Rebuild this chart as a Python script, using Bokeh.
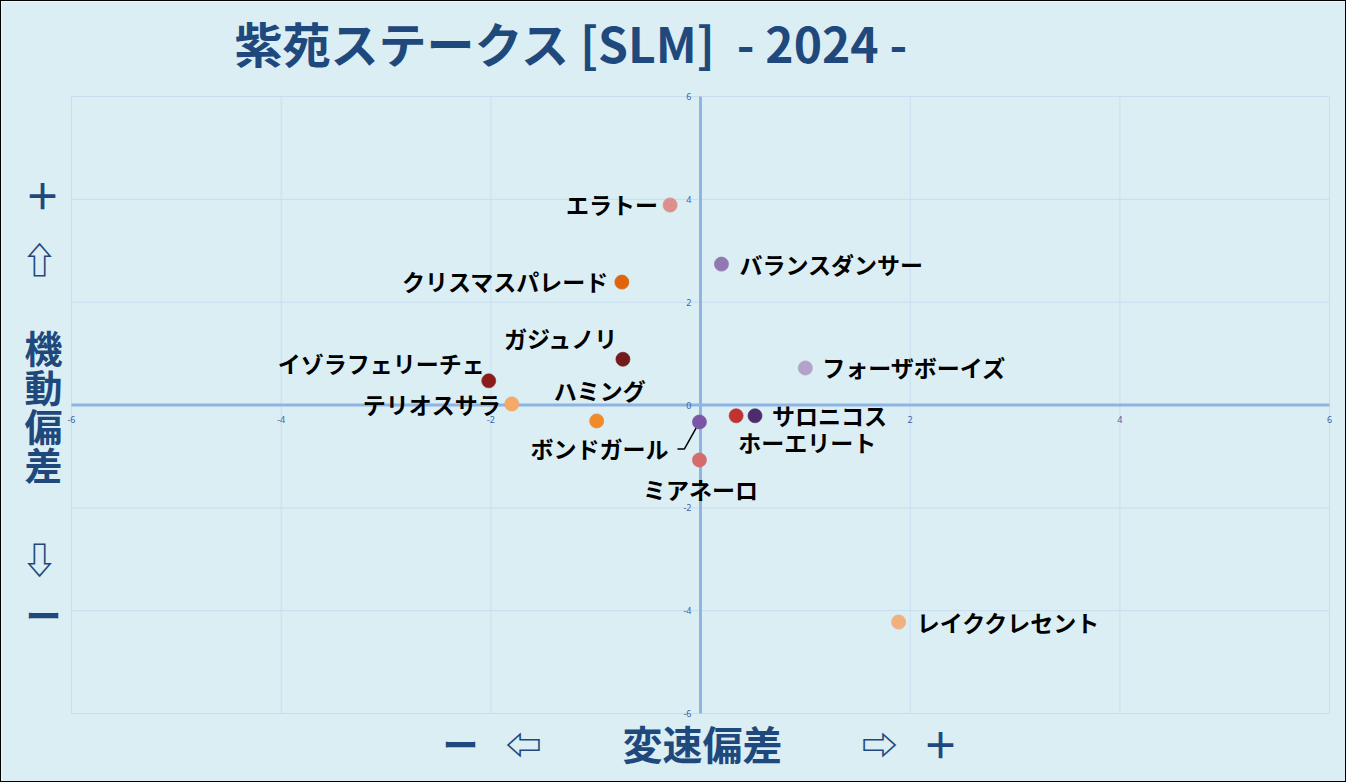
import numpy as np
from bokeh.plotting import figure
from bokeh.models import ColumnDataSource, Label
from bokeh.core.properties import value
from bokeh.embed import file_html
from bokeh.resources import INLINE

# ---------------- data ----------------
names = ["エラトー", "バランスダンサー", "クリスマスパレード", "ガジュノリ",
         "イゾラフェリーチェ", "フォーザボーイズ", "テリオスサラ", "ハミング",
         "ボンドガール", "サロニコス", "ホーエリート", "ミアネーロ", "レイククレセント"]
speed_dev = [-0.29, 0.20, -0.75, -0.74, -2.02, 1.00, -1.80, -0.99,
             -0.01, 0.52, 0.34, -0.01, 1.89]
mobility_dev = [3.89, 2.74, 2.39, 0.89, 0.47, 0.72, 0.02, -0.31,
                -0.33, -0.21, -0.21, -1.07, -4.22]
point_colors = ["#DE8E8C", "#9377B3", "#E0650A", "#741C1D", "#8B1C1C", "#B4A2CB",
                "#F6A867", "#F28A27", "#7B55A6", "#4E2C6C", "#C23230", "#D56B6B", "#F2B07E"]
tick_values = [-6, -4, -2, 0, 2, 4, 6]
tick_labels = ["-6", "-4", "-2", "0", "2", "4", "6"]

# label placement (style only): text_align, x offset px, y offset px (down +)
placements = [("right", -12, -1), ("left", 18, 0), ("right", -13, -1), ("right", -4, -21),
              ("right", -4, -18), ("left", 17, -1), ("right", -11, 0), ("center", 3, -31),
              ("right", -31, 26), ("left", 17, -1), ("center", 71, 26), ("center", 1, 29),
              ("left", 18, 0)]

# ---------------- layout ----------------
W, H = 1346, 782
FL, FR, FT, FB = 70, 1328, 95, 712      # plot-area edges in canvas px
lo, hi = min(tick_values), max(tick_values)
sx = (FR - FL) / (hi - lo)
sy = (FB - FT) / (hi - lo)
x_range = (lo - FL / sx, hi + (W - FR) / sx)
y_range = (lo - (H - FB) / sy, hi + FT / sy)

BG = "#DBEEF4"
NAVY = "#1F497D"
GRID = "#C9DDF0"
AXIS = "#8DB4E2"
JP = "Noto Sans CJK JP"

p = figure(width=W, height=H, x_range=x_range, y_range=y_range,
           output_backend="svg", toolbar_location=None,
           x_axis_location=None, y_axis_location=None,
           min_border=0, min_border_left=0, min_border_right=0,
           min_border_top=0, min_border_bottom=0,
           background_fill_color=BG, border_fill_color=BG,
           styles={"border": "1px solid black"})
p.outline_line_color = None
p.grid.visible = False

# grid lines limited to the plot area
n = len(tick_values)
p.segment(x0=tick_values, y0=[lo] * n, x1=tick_values, y1=[hi] * n,
          line_color=GRID, line_width=1)
p.segment(x0=[lo] * n, y0=tick_values, x1=[hi] * n, y1=tick_values,
          line_color=GRID, line_width=1)

# zero axes (crossing at the origin), limited to the plot area
p.segment(x0=[lo, 0], y0=[0, lo], x1=[hi, 0], y1=[0, hi],
          line_color=AXIS, line_width=3)

# tick labels
p.text(x=[0] * n, y=tick_values, text=tick_labels,
       text_align="right", text_baseline="middle", x_offset=-9,
       text_font=value("Noto Sans"), text_font_size="9px", text_color="#3A63A8")
p.text(x=tick_values, y=[0] * n, text=tick_labels,
       text_align="center", text_baseline="top", y_offset=11,
       text_font=value("Noto Sans"), text_font_size="9px", text_color="#3A63A8")

src = ColumnDataSource(dict(
    x=speed_dev, y=mobility_dev, name=names, color=point_colors,
    align=[pl[0] for pl in placements],
    dx=[pl[1] for pl in placements],
    dy=[pl[2] for pl in placements],
))

# leader line for ボンドガール
i_b = names.index("ボンドガール")
bx, by = speed_dev[i_b], mobility_dev[i_b]
p.line([bx - 1 / sx, bx - 15 / sx, bx - 22 / sx],
       [by - 2 / sy, by - 27 / sy, by - 27 / sy],
       line_color="black", line_width=1.5)

# soft shadow under the markers, then the markers
p.scatter("x", "y", source=src, size=15, fill_color="#7F8C99", fill_alpha=0.25,
          line_color=None)
p.scatter("x", "y", source=src, size=14, fill_color="color", line_color="color",
          line_alpha=0.6)

p.text("x", "y", text="name", source=src, text_align="align", text_baseline="middle",
       x_offset="dx", y_offset="dy", text_font=value(JP), text_font_style="bold",
       text_font_size="23px", text_color="black")

# screen units (frame == whole canvas): x from left, y up from bottom
def add_text(t, px, py, size, align="center"):
    p.add_layout(Label(x=px - 1, y=H - (py - 1), x_units="screen", y_units="screen",
                       text=t, text_align=align, text_baseline="middle",
                       text_font=JP, text_font_style="bold",
                       text_font_size=size, text_color=NAVY))

# title
add_text("紫苑ステークス [SLM]\u00a0\u00a0- 2024 -", 234, 41, "48px", align="left")

# side annotations
side = [("＋", 42, 193, "36px"), ("⇧", 39, 257, "36px"),
        ("機", 43, 346, "38px"), ("動", 43, 385, "38px"),
        ("偏", 43, 424, "38px"), ("差", 43, 463, "38px"),
        ("⇩", 39, 557, "36px"), ("ー", 43, 613, "36px"),
        ("ー", 460, 742, "36px"), ("⇦", 523, 742, "36px"),
        ("変速偏差", 702, 742, "40px"),
        ("⇨", 879, 742, "36px"), ("＋", 940, 742, "36px")]
for t, px, py, sz in side:
    add_text(t, px, py, sz)

open("out.html", "w").write(file_html(p, INLINE))
